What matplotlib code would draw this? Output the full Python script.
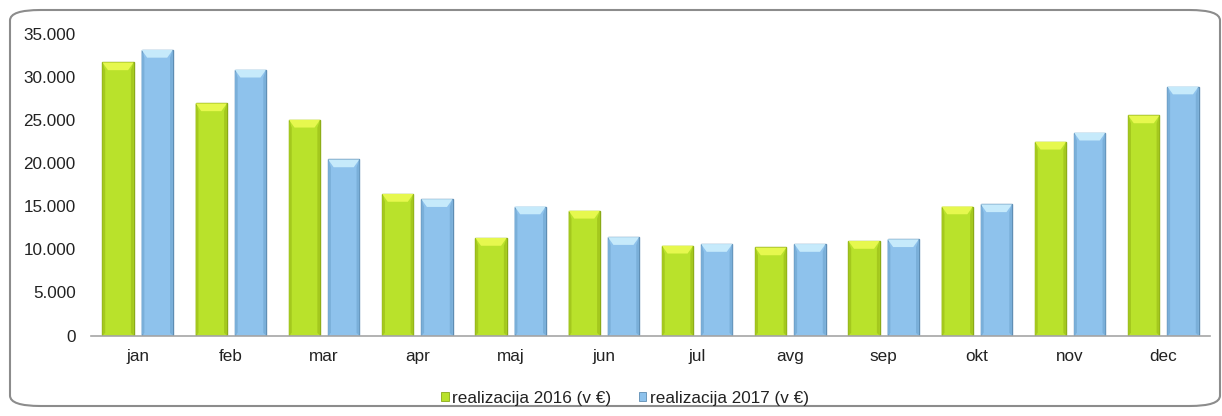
import matplotlib
matplotlib.use("Agg")
import matplotlib.pyplot as plt
from matplotlib.patches import Polygon, FancyBboxPatch, Patch
from matplotlib.ticker import FuncFormatter
import numpy as np

months = ["jan", "feb", "mar", "apr", "maj", "jun", "jul", "avg", "sep", "okt", "nov", "dec"]
real_2016 = [31650, 26900, 25000, 16400, 11300, 14450, 10400, 10200, 10950, 14950, 22450, 25500]
real_2017 = [33100, 30800, 20400, 15800, 14950, 11400, 10600, 10600, 11150, 15200, 23500, 28850]
series_labels = ["realizacija 2016 (v €)", "realizacija 2017 (v €)"]
yticks = [0, 5000, 10000, 15000, 20000, 25000, 30000, 35000]

plt.rcParams['font.family'] = ['Liberation Sans', 'DejaVu Sans']

fig = plt.figure(figsize=(12.22, 4.16), dpi=100)
ax = fig.add_axes([91/1222, 1-335.5/416, (1210-91)/1222, (335.5-33.5)/416])

x = np.arange(len(months))
w = 0.335
off = 0.21

styles = [
    dict(face="#B9E22B", edge="#8AAA17", cap="#E6F84E", side="#A4C81E"),
    dict(face="#8EC2EC", edge="#5E8DB3", cap="#C6EAFB", side="#7AAFD9"),
]

for vals, o, st in [(real_2016, -off, styles[0]), (real_2017, off, styles[1])]:
    xs = x + o
    ax.bar(xs, vals, width=w, color=st["face"], edgecolor=st["edge"], linewidth=1.0, zorder=2)
    cap_h = 900
    inset = 0.06
    for xi, v in zip(xs, vals):
        l, r = xi - w/2, xi + w/2
        ax.add_patch(Polygon([(l, v), (r, v), (r - inset, v - cap_h), (l + inset, v - cap_h)],
                             closed=True, facecolor=st["cap"], edgecolor="none", zorder=3))
        ax.add_patch(Polygon([(l, 0), (l + 0.03, 300), (l + 0.03, v - cap_h), (l, v)],
                             closed=True, facecolor=st["side"], edgecolor="none", zorder=3))
        ax.add_patch(Polygon([(r, 0), (r - 0.03, 300), (r - 0.03, v - cap_h), (r, v)],
                             closed=True, facecolor=st["side"], edgecolor="none", zorder=3))

ax.set_xlim(-0.5, len(months) - 0.5)
ax.set_ylim(0, 35000)
ax.set_yticks(yticks)
ax.yaxis.set_major_formatter(FuncFormatter(lambda v, p: f"{int(v):,}".replace(",", ".")))
ax.set_xticks(x)
ax.set_xticklabels(months)
ax.tick_params(axis='both', length=0, labelsize=12.3, colors="#222222")
ax.tick_params(axis='y', pad=11)
ax.tick_params(axis='x', pad=10)
for s in ["top", "right", "left"]:
    ax.spines[s].set_visible(False)
ax.spines["bottom"].set_color("#A6A6A6")
ax.spines["bottom"].set_linewidth(1.2)
ax.set_facecolor("none")

handles = [Patch(facecolor=styles[0]["face"], edgecolor=styles[0]["edge"], linewidth=0.6),
           Patch(facecolor=styles[1]["face"], edgecolor=styles[1]["edge"], linewidth=0.6)]
fig.legend(handles, series_labels, loc="center", bbox_to_anchor=(625/1222, 1-398/416),
           ncol=2, frameon=False, fontsize=12.3, handlelength=0.45, handleheight=0.45,
           handletextpad=0.2, columnspacing=1.6, labelcolor="#222222")

box = FancyBboxPatch((10/1222, 10/416), 1210/1222, 396/416,
                     boxstyle="round,pad=0,rounding_size=0.025", transform=fig.transFigure,
                     facecolor="none", edgecolor="#8C8C8C", linewidth=1.5, zorder=-1)
fig.patches.append(box)

fig.savefig("out.png", dpi=100)
